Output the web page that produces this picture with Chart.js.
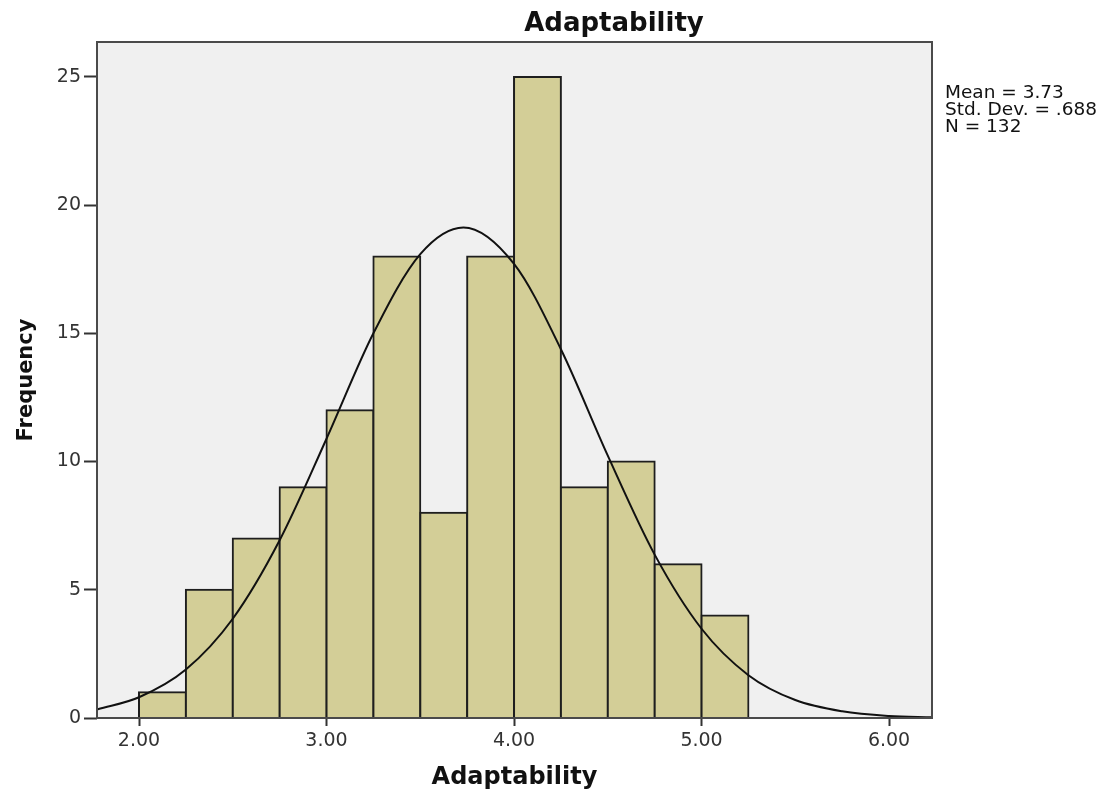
<!DOCTYPE html>
<html>
<head>
<meta charset="utf-8">
<script src="https://cdn.jsdelivr.net/npm/chart.js@4.4.1/dist/chart.umd.min.js"></script>
<style>
  html, body { margin: 0; padding: 0; background: #fff; }
  #wrap { width: 1106px; height: 797px; }
</style>
</head>
<body>
<div id="wrap"><canvas id="histChart" width="1106" height="797"></canvas></div>
<script>
// bins of 0.25, centres and counts
const binCenters = [2.125, 2.375, 2.625, 2.875, 3.125, 3.375, 3.625, 3.875, 4.125, 4.375, 4.625, 4.875, 5.125];
const binCounts = [1, 5, 7, 9, 12, 18, 8, 18, 25, 9, 10, 6, 4];

// normal curve
const curveX = [1.78, 2.0, 2.25, 2.5, 2.75, 3.0, 3.25, 3.5, 3.73, 4.0, 4.25, 4.5, 4.75, 5.0, 5.25, 5.5, 5.75, 6.0, 6.23];
const curveY = [0.34, 0.81, 1.89, 3.87, 6.93, 10.89, 15.0, 18.09, 19.13, 17.71, 14.38, 10.23, 6.37, 3.48, 1.67, 0.70, 0.26, 0.08, 0.03];

const xTicks = [2, 3, 4, 5, 6];
const yTicks = [0, 5, 10, 15, 20, 25];
const statLines = ["Mean = 3.73", "Std. Dev. = .688", "N = 132"];

const FONT = "'DejaVu Sans', sans-serif";

// plot background, frame, title, stats
const decorPlugin = {
  id: "decor",
  beforeDraw(chart) {
    const { ctx, chartArea: a } = chart;
    ctx.save();
    ctx.fillStyle = "#f0f0f0";
    ctx.fillRect(a.left, a.top, a.right - a.left, a.bottom - a.top);
    ctx.restore();
  },
  afterDraw(chart) {
    const { ctx, chartArea: a } = chart;
    ctx.save();
    ctx.strokeStyle = "#4a4a4a";
    ctx.lineWidth = 2;
    ctx.strokeRect(a.left, a.top, a.right - a.left, a.bottom - a.top);
    ctx.fillStyle = "#111";
    ctx.font = "bold 26px " + FONT;
    ctx.textAlign = "center";
    ctx.textBaseline = "alphabetic";
    ctx.fillText("Adaptability", 614, 31);
    ctx.font = "18.5px " + FONT;
    ctx.textAlign = "left";
    statLines.forEach((s, i) => ctx.fillText(s, 945, 98 + i * 17));
    ctx.restore();
  }
};

new Chart(document.getElementById("histChart"), {
  data: {
    datasets: [
      {
        type: "line",
        data: curveX.map((x, i) => ({ x: x, y: curveY[i] })),
        borderColor: "#111",
        borderWidth: 2,
        pointRadius: 0,
        cubicInterpolationMode: "monotone",
        fill: false,
        order: 0
      },
      {
        type: "bar",
        data: binCenters.map((x, i) => ({ x: x, y: binCounts[i] })),
        backgroundColor: "#d3ce97",
        borderColor: "#1e1e1e",
        borderWidth: 2,
        inflateAmount: 1,
        barPercentage: 1,
        categoryPercentage: 1,
        order: 1
      }
    ]
  },
  options: {
    responsive: false,
    animation: false,
    layout: { padding: { top: 42, right: 174, left: 0, bottom: 0 } },
    plugins: { legend: { display: false }, tooltip: { enabled: false } },
    scales: {
      x: {
        type: "linear",
        offset: false,
        min: 1.776,
        max: 6.229,
        afterBuildTicks: s => { s.ticks = xTicks.map(v => ({ value: v })); },
        afterFit: s => { s.height = 79; },
        ticks: {
          color: "#333",
          font: { family: FONT, size: 19 },
          padding: 4,
          maxRotation: 0,
          callback: v => Number(v).toFixed(2)
        },
        grid: { offset: false, drawOnChartArea: false, tickLength: 8, tickColor: "#333", tickWidth: 2 },
        border: { display: false },
        title: { display: true, text: "Adaptability", color: "#111", font: { family: FONT, size: 24, weight: "bold" }, padding: { top: 0, bottom: 5 } }
      },
      y: {
        min: 0,
        max: 26.36,
        afterBuildTicks: s => { s.ticks = yTicks.map(v => ({ value: v })); },
        afterFit: s => { s.width = 97; },
        ticks: { color: "#333", font: { family: FONT, size: 19 }, padding: 3 },
        grid: { drawOnChartArea: false, tickLength: 13, tickColor: "#333", tickWidth: 2 },
        border: { display: false },
        title: { display: true, text: "Frequency", color: "#111", font: { family: FONT, size: 21, weight: "bold" }, padding: { top: 14, bottom: 0 } }
      }
    }
  },
  plugins: [decorPlugin]
});
</script>
</body>
</html>
